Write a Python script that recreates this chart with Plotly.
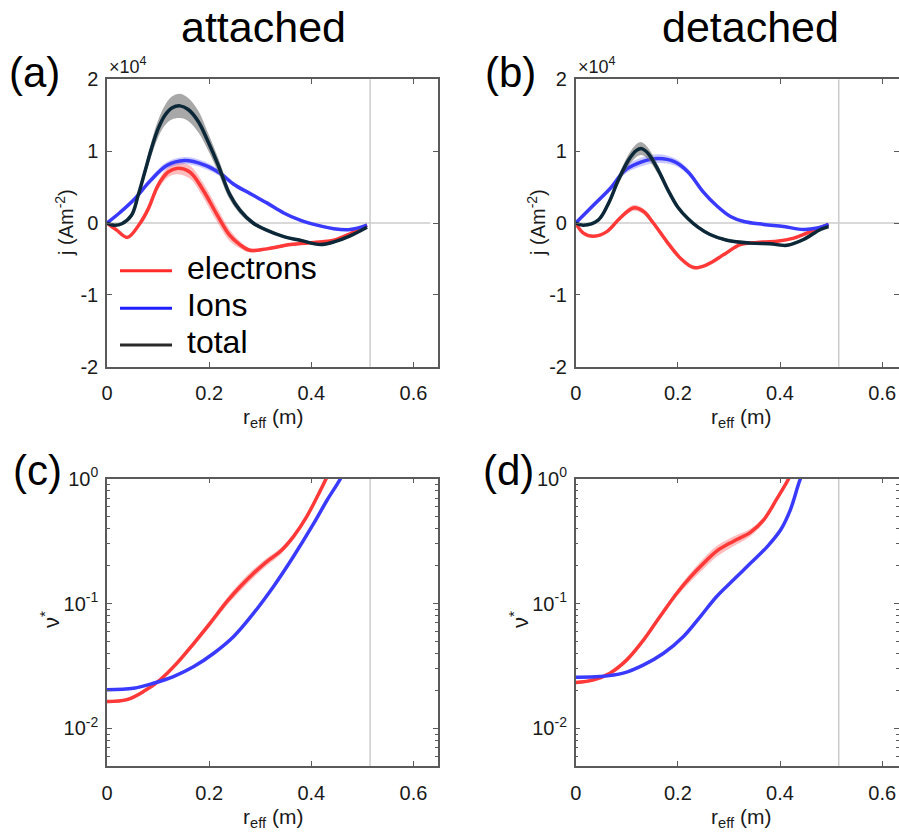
import numpy as np
import plotly.graph_objects as go

# ---------------- data ----------------
# Panel (a) attached, current density j (x 1e4 A m^-2)
a_x_e = [0, 0.019, 0.04, 0.065, 0.081, 0.100, 0.12, 0.136, 0.162, 0.188, 0.215, 0.24, 0.26, 0.28, 0.313, 0.359, 0.405, 0.444, 0.476, 0.509]
a_e = [0, -0.10, -0.20, 0.0, 0.20, 0.525, 0.71, 0.76, 0.71, 0.46, 0.12, -0.17, -0.30, -0.38, -0.36, -0.30, -0.27, -0.24, -0.15, -0.03]
a_e_err = [0, 0.01, 0.02, 0.03, 0.04, 0.06, 0.07, 0.08, 0.09, 0.10, 0.10, 0.08, 0.05, 0.03, 0.02, 0.02, 0.02, 0.02, 0.01, 0.01]

a_x_i = [0, 0.026, 0.052, 0.085, 0.117, 0.152, 0.19, 0.222, 0.248, 0.28, 0.313, 0.346, 0.378, 0.411, 0.444, 0.476, 0.509]
a_i = [0, 0.15, 0.32, 0.59, 0.80, 0.87, 0.81, 0.69, 0.54, 0.41, 0.28, 0.14, 0.04, -0.03, -0.08, -0.09, -0.03]
a_i_err = [0, 0.02, 0.03, 0.04, 0.05, 0.05, 0.05, 0.04, 0.03, 0.03, 0.02, 0.02, 0.02, 0.02, 0.02, 0.01, 0.01]

a_x_t = [0, 0.014, 0.029, 0.048, 0.061, 0.074, 0.087, 0.100, 0.1135, 0.127, 0.143, 0.159, 0.179, 0.198, 0.218, 0.240, 0.26, 0.286, 0.3125, 0.346, 0.378, 0.418, 0.446, 0.476, 0.509]
a_t = [0, -0.03, -0.01, 0.107, 0.385, 0.71, 1.035, 1.31, 1.50, 1.60, 1.63, 1.58, 1.41, 1.13, 0.80, 0.40, 0.18, 0.0, -0.10, -0.19, -0.24, -0.30, -0.26, -0.18, -0.06]
a_t_err = [0, 0.01, 0.01, 0.03, 0.05, 0.07, 0.10, 0.12, 0.14, 0.16, 0.17, 0.16, 0.15, 0.12, 0.10, 0.07, 0.05, 0.03, 0.02, 0.02, 0.02, 0.02, 0.02, 0.02, 0.01]

# Panel (b) detached
b_x_e = [0, 0.015, 0.035, 0.061, 0.087, 0.113, 0.133, 0.152, 0.178, 0.205, 0.231, 0.257, 0.29, 0.322, 0.355, 0.394, 0.427, 0.46, 0.495]
b_e = [0, -0.14, -0.185, -0.12, 0.07, 0.21, 0.16, 0.0, -0.255, -0.49, -0.62, -0.58, -0.44, -0.30, -0.27, -0.255, -0.21, -0.12, -0.02]
b_e_err = [0, 0.01, 0.02, 0.02, 0.03, 0.04, 0.04, 0.03, 0.03, 0.02, 0.02, 0.02, 0.02, 0.02, 0.02, 0.02, 0.01, 0.01, 0.01]

b_x_i = [0, 0.038, 0.07, 0.096, 0.129, 0.162, 0.194, 0.22, 0.25, 0.276, 0.303, 0.329, 0.368, 0.407, 0.446, 0.473, 0.495]
b_i = [0, 0.27, 0.50, 0.73, 0.85, 0.896, 0.85, 0.71, 0.43, 0.24, 0.09, 0.02, -0.02, -0.05, -0.09, -0.07, -0.02]
b_i_err = [0, 0.03, 0.04, 0.05, 0.06, 0.06, 0.05, 0.04, 0.03, 0.02, 0.02, 0.01, 0.01, 0.01, 0.01, 0.01, 0.01]

b_x_t = [0, 0.015, 0.044, 0.064, 0.083, 0.103, 0.119, 0.129, 0.142, 0.162, 0.181, 0.2, 0.22, 0.24, 0.263, 0.296, 0.342, 0.381, 0.414, 0.446, 0.479, 0.495]
b_t = [0, -0.03, 0.04, 0.27, 0.59, 0.87, 1.01, 1.035, 0.965, 0.73, 0.455, 0.22, 0.06, -0.06, -0.16, -0.24, -0.28, -0.29, -0.31, -0.23, -0.09, -0.05]
b_t_err = [0, 0.01, 0.02, 0.04, 0.06, 0.08, 0.09, 0.09, 0.08, 0.06, 0.04, 0.03, 0.02, 0.02, 0.02, 0.02, 0.02, 0.02, 0.02, 0.02, 0.01, 0.01]

# Panel (c) attached, collisionality nu*
c_x_e = [0, 0.039, 0.072, 0.104, 0.137, 0.17, 0.202, 0.235, 0.261, 0.287, 0.313, 0.339, 0.365, 0.391, 0.418, 0.429, 0.44]
c_e = [0.0164, 0.0170, 0.0198, 0.0245, 0.0333, 0.048, 0.0696, 0.104, 0.137, 0.175, 0.217, 0.261, 0.344, 0.497, 0.81, 1.0, 1.25]
c_e_rel = [0.03, 0.03, 0.03, 0.04, 0.04, 0.05, 0.06, 0.07, 0.08, 0.08, 0.07, 0.06, 0.05, 0.04, 0.04, 0.04, 0.04]

c_x_i = [0, 0.052, 0.091, 0.13, 0.17, 0.209, 0.248, 0.287, 0.326, 0.365, 0.405, 0.431, 0.457, 0.47]
c_i = [0.0204, 0.021, 0.023, 0.026, 0.0313, 0.040, 0.0545, 0.0837, 0.137, 0.238, 0.44, 0.675, 1.0, 1.3]
c_i_rel = [0.02, 0.02, 0.02, 0.02, 0.02, 0.02, 0.02, 0.02, 0.02, 0.02, 0.02, 0.02, 0.02, 0.02]

# Panel (d) detached
d_x_e = [0, 0.035, 0.067, 0.1, 0.133, 0.165, 0.198, 0.224, 0.25, 0.276, 0.309, 0.342, 0.368, 0.394, 0.417, 0.43]
d_e = [0.0233, 0.0245, 0.0277, 0.0354, 0.0512, 0.0787, 0.121, 0.162, 0.209, 0.263, 0.316, 0.372, 0.468, 0.692, 1.0, 1.3]
d_e_rel = [0.03, 0.03, 0.03, 0.04, 0.04, 0.05, 0.06, 0.08, 0.10, 0.10, 0.09, 0.07, 0.05, 0.04, 0.04, 0.04]

d_x_i = [0, 0.048, 0.093, 0.133, 0.172, 0.211, 0.244, 0.276, 0.309, 0.342, 0.375, 0.401, 0.42, 0.44, 0.455]
d_i = [0.0257, 0.026, 0.0277, 0.0323, 0.040, 0.0545, 0.0787, 0.114, 0.155, 0.21, 0.286, 0.388, 0.561, 1.0, 1.35]
d_i_rel = [0.02, 0.02, 0.02, 0.02, 0.02, 0.02, 0.02, 0.02, 0.02, 0.02, 0.02, 0.02, 0.02, 0.02, 0.02]

series_names = ["electrons", "Ions", "total"]
x_ticks = [0, 0.2, 0.4, 0.6]
x_tick_text = ["0", "0.2", "0.4", "0.6"]
j_ticks = [-2, -1, 0, 1, 2]
j_tick_text = ["-2", "-1", "0", "1", "2"]
nu_ticks = [0.01, 0.1, 1]
nu_tick_text = ["10<sup>-2</sup>", "10<sup>-1</sup>", "10<sup>0</sup>"]
nu_minor = [0.006, 0.007, 0.008, 0.009, 0.02, 0.03, 0.04, 0.05, 0.06, 0.07, 0.08, 0.09,
            0.2, 0.3, 0.4, 0.5, 0.6, 0.7, 0.8, 0.9]
sep_x = 0.515          # vertical reference line (separatrix)
zero_line_end = 0.633  # extent of the j = 0 reference line

# ---------------- styling ----------------
FONT = "Arial, 'Liberation Sans', Helvetica, sans-serif"
RED = "#ff3838"
BLUE = "#3a3aff"
NAVY = "#0c2838"
RED_BAND = "rgba(255,90,90,0.40)"
BLUE_BAND = "rgba(100,100,255,0.35)"
GRAY_BAND = "rgba(110,110,110,0.60)"
LEG_COLORS = ["#ff2a2a", "#2020ff", "#2a2a2a"]
AXCOL = "#5a5a5a"
REFCOL = "#cccccc"

W, H = 899, 834
xa_dom = [107 / W, 438 / W]
xb_dom = [575.7 / W, 1.0]
ytop_dom = [1 - 366.7 / H, 1 - 79.3 / H]
ybot_dom = [1 - 766 / H, 1 - 478.7 / H]
px_per_unit = (438 - 107) / 0.648

fig = go.Figure()


def add_series(x, y, err, color, band, xa, ya, log=False):
    x = np.asarray(x, float)
    y = np.asarray(y, float)
    e = np.asarray(err, float)
    if log:
        lo, hi = y * (1 - e), y * (1 + e)
    else:
        lo, hi = y - e, y + e
    sp = dict(shape="spline", smoothing=1.0)
    fig.add_trace(go.Scatter(x=x, y=hi, mode="lines", line=dict(width=0, color=band, **sp),
                             xaxis=xa, yaxis=ya, showlegend=False, hoverinfo="skip"))
    fig.add_trace(go.Scatter(x=x, y=lo, mode="lines", line=dict(width=0, color=band, **sp),
                             fill="tonexty", fillcolor=band,
                             xaxis=xa, yaxis=ya, showlegend=False, hoverinfo="skip"))
    fig.add_trace(go.Scatter(x=x, y=y, mode="lines", line=dict(width=3.5, color=color, **sp),
                             xaxis=xa, yaxis=ya, showlegend=False))


# (a)
add_series(a_x_e, a_e, a_e_err, RED, RED_BAND, "x", "y")
add_series(a_x_i, a_i, a_i_err, BLUE, BLUE_BAND, "x", "y")
add_series(a_x_t, a_t, a_t_err, NAVY, GRAY_BAND, "x", "y")
# (b)
add_series(b_x_e, b_e, b_e_err, RED, RED_BAND, "x2", "y2")
add_series(b_x_i, b_i, b_i_err, BLUE, BLUE_BAND, "x2", "y2")
add_series(b_x_t, b_t, b_t_err, NAVY, GRAY_BAND, "x2", "y2")
# (c)
add_series(c_x_e, c_e, c_e_rel, RED, RED_BAND, "x3", "y3", log=True)
add_series(c_x_i, c_i, c_i_rel, BLUE, BLUE_BAND, "x3", "y3", log=True)
# (d)
add_series(d_x_e, d_e, d_e_rel, RED, RED_BAND, "x4", "y4", log=True)
add_series(d_x_i, d_i, d_i_rel, BLUE, BLUE_BAND, "x4", "y4", log=True)

tickfont = dict(family=FONT, size=20, color="#1a1a1a")
common = dict(showline=True, linecolor=AXCOL, linewidth=1.5, mirror="ticks",
              ticks="inside", ticklen=5, tickwidth=1.2, tickcolor=AXCOL,
              showgrid=False, zeroline=False, tickfont=tickfont, automargin=False)

xcommon = dict(common, tickvals=x_ticks, ticktext=x_tick_text, ticklabelstandoff=8)
fig.update_layout(
    xaxis=dict(xcommon, domain=xa_dom, range=[0, 0.648], anchor="y"),
    xaxis2=dict(xcommon, domain=xb_dom, range=[0, (W - 575.7) / px_per_unit], anchor="y2"),
    xaxis3=dict(xcommon, domain=xa_dom, range=[0, 0.648], anchor="y3"),
    xaxis4=dict(xcommon, domain=xb_dom, range=[0, (W - 575.7) / px_per_unit], anchor="y4"),
    yaxis=dict(common, domain=ytop_dom, range=[-2, 2], tickvals=j_ticks, ticktext=j_tick_text,
               anchor="x", ticklabelstandoff=3),
    yaxis2=dict(common, domain=ytop_dom, range=[-2, 2], tickvals=j_ticks, ticktext=j_tick_text,
                anchor="x2", ticklabelstandoff=3),
    yaxis3=dict(common, domain=ybot_dom, type="log", range=[np.log10(0.005), 0],
                tickvals=nu_ticks, ticktext=nu_tick_text, anchor="x3", ticklabelstandoff=3,
                minor=dict(tickvals=nu_minor, ticks="inside", ticklen=3, tickcolor=AXCOL)),
    yaxis4=dict(common, domain=ybot_dom, type="log", range=[np.log10(0.005), 0],
                tickvals=nu_ticks, ticktext=nu_tick_text, anchor="x4", ticklabelstandoff=3,
                minor=dict(tickvals=nu_minor, ticks="inside", ticklen=3, tickcolor=AXCOL)),
)


def px(xp):
    return xp / W


def py(yp):
    return 1 - yp / H


# reference lines
shapes = []
for xr, yr in [("x", "y"), ("x2", "y2"), ("x3", "y3"), ("x4", "y4")]:
    shapes.append(dict(type="line", xref=xr, yref=f"{yr} domain", x0=sep_x, x1=sep_x, y0=0, y1=1,
                       line=dict(color=REFCOL, width=1.5), layer="below"))
for xr, yr in [("x", "y"), ("x2", "y2")]:
    shapes.append(dict(type="line", xref=xr, yref=yr, x0=0, x1=zero_line_end, y0=0, y1=0,
                       line=dict(color=REFCOL, width=1.5), layer="below"))

ann = []
# legend (drawn as keys + labels in panel a)
leg_rows = [270.7, 308.3, 345.0]
for name, col, ry in zip(series_names, LEG_COLORS, leg_rows):
    shapes.append(dict(type="line", xref="paper", yref="paper", x0=px(120), x1=px(172),
                       y0=py(ry), y1=py(ry), line=dict(color=col, width=3)))
    ann.append(dict(text=name, x=px(185), y=py(ry - 3), xanchor="left",
                    font=dict(family=FONT, size=32, color="#000")))

big = dict(family=FONT, size=43, color="#000")
ann.append(dict(text="attached", x=px(263), y=py(27), font=big))
ann.append(dict(text="detached", x=px(750), y=py(27), font=big))
lab = dict(family=FONT, size=42, color="#000")
for t, xx, yy in [("(a)", 34, 72), ("(b)", 511, 72), ("(c)", 37, 470), ("(d)", 509, 470)]:
    ann.append(dict(text=t, x=px(xx), y=py(yy), font=lab))
small = dict(family=FONT, size=18, color="#1a1a1a")
for xx in [107, 575.7]:
    ann.append(dict(text="×10<sup>4</sup>", x=px(xx), y=py(66), xanchor="left", font=small))
axf = dict(family=FONT, size=20, color="#1a1a1a")
for xx in [64, 536]:
    ann.append(dict(text="j (Am<sup>-2</sup>)", x=px(xx), y=py(223), textangle=-90, font=axf))
for xx in [50, 519]:
    ann.append(dict(text="ν<sup>*</sup>", x=px(xx), y=py(620), textangle=-90,
                    font=dict(family=FONT, size=22, color="#1a1a1a")))
xf = dict(family=FONT, size=21, color="#1a1a1a")
for xx, yy in [(272.5, 418), (741, 418), (272.5, 818), (741, 818)]:
    ann.append(dict(text="r<sub>eff</sub> (m)", x=px(xx), y=py(yy), font=xf))
for a in ann:
    a.update(xref="paper", yref="paper", showarrow=False)
    a.setdefault("xanchor", "center")
    a.setdefault("yanchor", "middle")

fig.update_layout(
    width=W, height=H,
    margin=dict(l=0, r=0, t=0, b=0, autoexpand=False),
    paper_bgcolor="white", plot_bgcolor="white",
    shapes=shapes, annotations=ann,
    showlegend=False,
    font=dict(family=FONT),
)

fig.write_html("out.html",
               config={"displayModeBar": False},
               post_script="document.body.style.margin='0';document.body.style.overflow='hidden';")
